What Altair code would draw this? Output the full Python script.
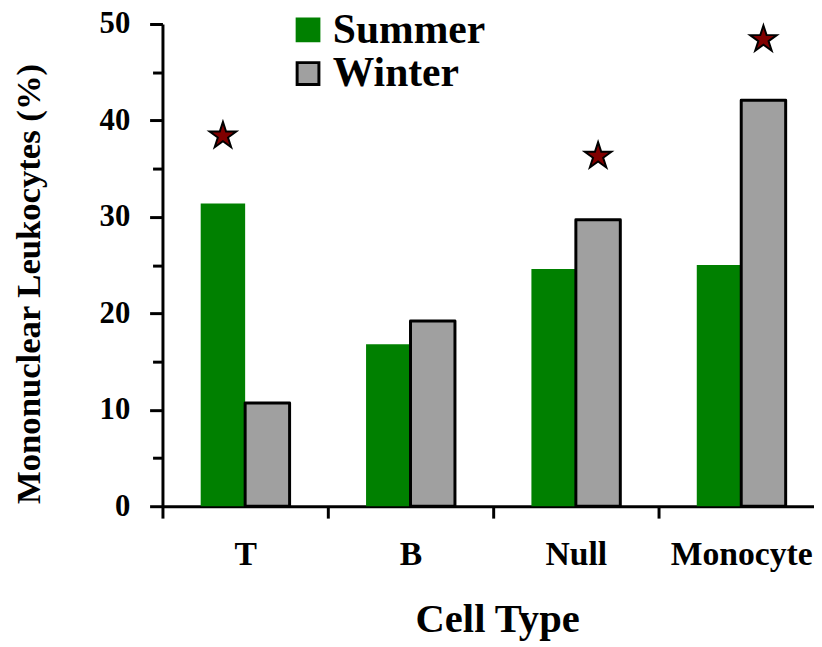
import altair as alt
import pandas as pd

cells = ["T", "B", "Null", "Monocyte"]
seasons = ["Summer", "Winter"]
summer = [31.4, 16.8, 24.6, 25.0]
winter = [10.7, 19.2, 29.7, 42.1]

star_cells = ["T", "Null", "Monocyte"]
star_series = ["Summer", "Winter", "Winter"]
star_values = [38.4, 36.3, 48.4]

rows = []
for c, s, w in zip(cells, summer, winter):
    rows.append({"cell": c, "series": "Summer", "value": s})
    rows.append({"cell": c, "series": "Winter", "value": w})
df = pd.DataFrame(rows)
stars = pd.DataFrame({"cell": star_cells, "series": star_series, "value": star_values})

FONT = "Liberation Serif"
STAR = ("M0,-1L0.2245,-0.309L0.951,-0.309L0.363,0.118L0.588,0.809L0,0.382"
        "L-0.588,0.809L-0.363,0.118L-0.951,-0.309L-0.2245,-0.309Z")

x_enc = alt.X("cell:N", sort=cells,
              scale=alt.Scale(range=[0, 668], paddingInner=0, paddingOuter=0),
              axis=alt.Axis(title="Cell Type", tickBand="extent", labelAngle=0,
                            labelFontSize=34, labelPadding=20,
                            titleFontSize=41, titleX=338, titleY=127,
                            titleBaseline="alphabetic"))
xo_enc = alt.XOffset("series:N", sort=seasons,
                     scale=alt.Scale(paddingOuter=0.86, paddingInner=0))
y_enc = alt.Y("value:Q", scale=alt.Scale(domain=[0, 50], nice=False),
              axis=alt.Axis(title="Mononuclear Leukocytes (%)",
                            values=[0, 5, 10, 15, 20, 25, 30, 35, 40, 45, 50],
                            labelExpr="datum.value % 10 == 0 ? datum.label : ''",
                            tickSize={"condition": {"test": "datum.value % 10 == 0", "value": 13},
                                      "value": 10},
                            labelFontSize=31, labelPadding=20,
                            titleFontSize=35, titleX=-117, titleY=262))

legend = alt.Legend(title=None, orient="none", legendX=126, legendY=-15,
                    symbolType="square", symbolSize=484,
                    symbolStrokeWidth=3, symbolOpacity=1,
                    labelFontSize=42, labelOffset=4,
                    rowPadding=2, padding=0)

bars = alt.Chart(df).mark_bar(strokeJoin="round").encode(
    x=x_enc,
    xOffset=xo_enc,
    y=y_enc,
    color=alt.Color("series:N", sort=seasons,
                    scale=alt.Scale(domain=seasons, range=["#008000", "#a0a0a0"]),
                    legend=legend),
    stroke=alt.Stroke("series:N", sort=seasons,
                      scale=alt.Scale(domain=seasons, range=["#008000", "#000000"]),
                      legend=legend),
    strokeWidth=alt.condition(alt.datum.series == "Winter", alt.value(3), alt.value(0)),
)

star_layer = alt.Chart(stars).mark_point(
    shape=STAR, size=800, filled=True, fill="#800000", stroke="black",
    strokeWidth=2, opacity=1
).encode(
    x=alt.X("cell:N", sort=cells),
    xOffset=alt.XOffset("series:N", sort=seasons),
    y=alt.Y("value:Q"),
)

chart = alt.layer(bars, star_layer).properties(
    width=658, height=487,
    autosize=alt.AutoSizeParams(type="none"),
    padding={"left": 156, "top": 13, "right": 0, "bottom": 139},
).configure_view(stroke=None).configure_axis(
    domainColor="black", domainWidth=3, tickColor="black", tickWidth=3,
    tickSize=12, grid=False, labelFont=FONT, labelFontWeight="bold",
    labelColor="black", titleFont=FONT, titleFontWeight="bold", titleColor="black",
).configure_legend(
    labelFont=FONT, labelFontWeight="bold", labelColor="black",
)

chart.save("out.html", embed_options={"renderer": "svg", "actions": False})
